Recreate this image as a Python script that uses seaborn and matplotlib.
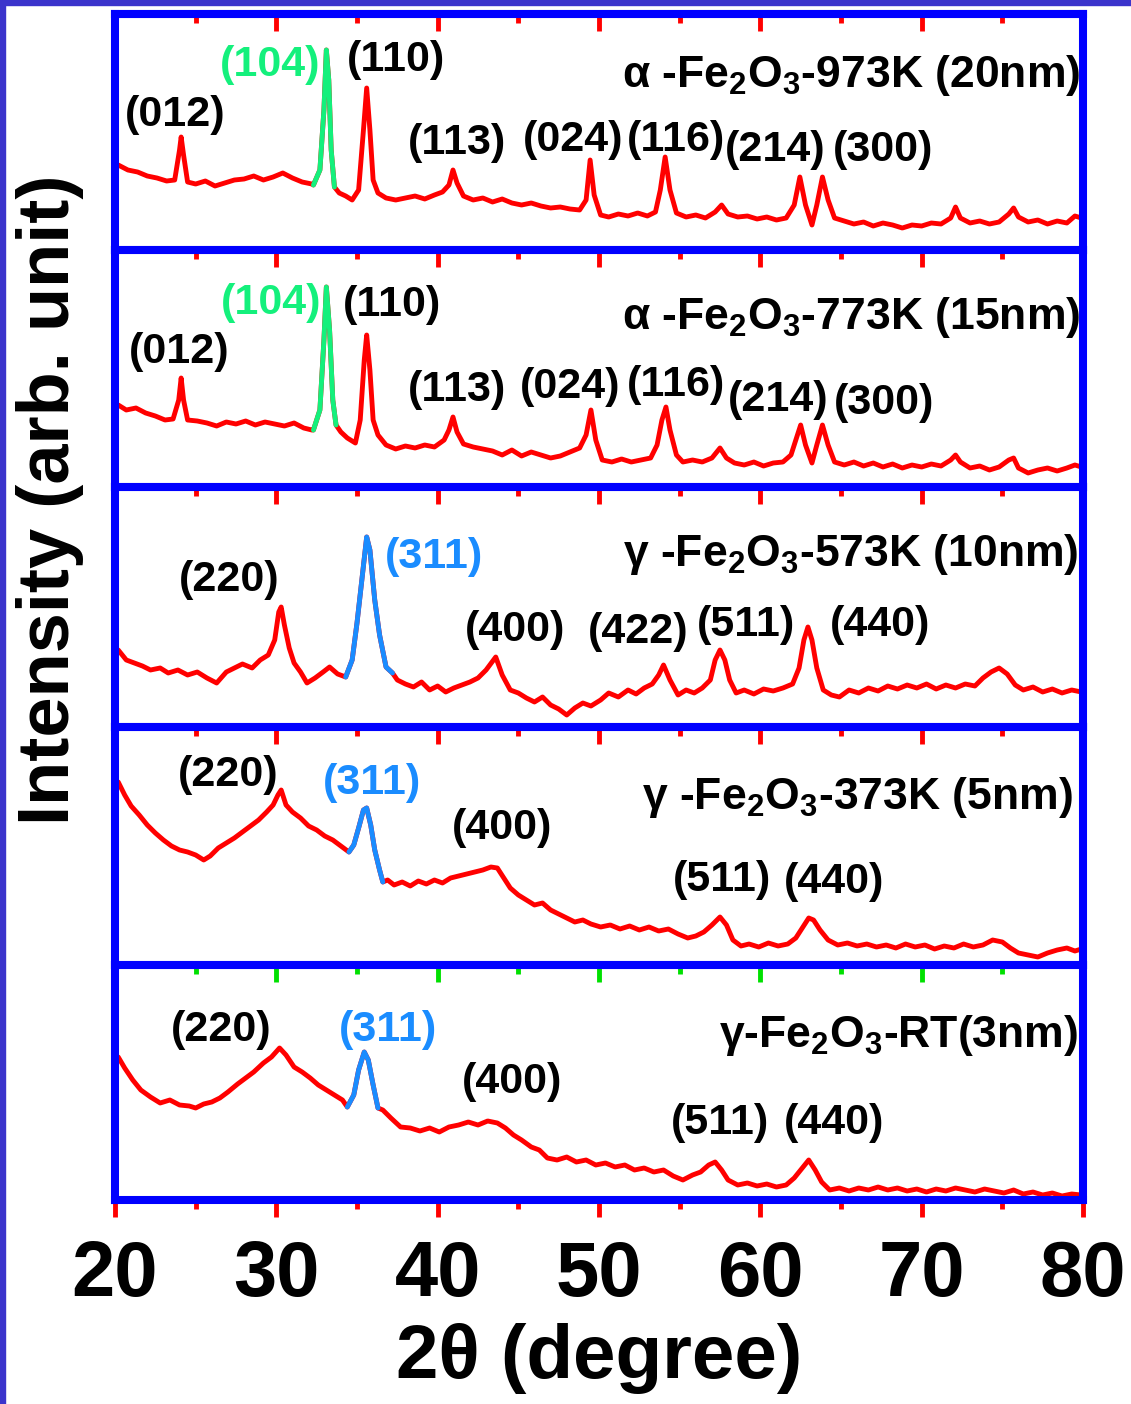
import matplotlib
matplotlib.use("Agg")
import matplotlib.pyplot as plt
import seaborn as sns
import pandas as pd
from matplotlib.ticker import MultipleLocator
from matplotlib.patches import Rectangle

# ---------------- data ----------------
SAMPLE_LABELS = [
    "α -Fe$_2$O$_3$-973K (20nm)",
    "α -Fe$_2$O$_3$-773K (15nm)",
    "γ -Fe$_2$O$_3$-573K (10nm)",
    "γ -Fe$_2$O$_3$-373K (5nm)",
    "γ-Fe$_2$O$_3$-RT(3nm)",
]

XRD_973K = [
    (20.2, 85), (20.8, 80), (21.4, 78), (22.0, 74), (22.6, 72), (23.2, 69), (23.7, 70),
    (24.0, 100), (24.1, 113), (24.25, 95), (24.5, 68), (25.0, 66), (25.6, 69), (26.2, 64),
    (26.8, 67), (27.4, 70), (28.0, 71), (28.6, 74), (29.2, 70), (29.8, 73), (30.4, 77),
    (31.0, 72), (31.6, 68), (32.2, 66), (32.3, 65), (32.7, 80), (32.95, 140), (33.1, 200),
    (33.25, 170), (33.4, 100), (33.6, 63), (33.9, 57), (34.3, 54), (34.7, 50), (35.1, 60),
    (35.4, 120), (35.6, 162), (35.8, 120), (36.0, 70), (36.3, 57), (36.8, 52), (37.4, 50),
    (38.0, 52), (38.6, 54), (39.2, 51), (39.8, 55), (40.3, 58), (40.7, 65), (40.95, 80),
    (41.2, 67), (41.6, 54), (42.2, 50), (42.8, 52), (43.4, 48), (44.0, 51), (44.6, 47),
    (45.2, 45), (45.8, 47), (46.4, 44), (47.0, 42), (47.6, 43), (48.2, 41), (48.8, 40),
    (49.2, 50), (49.45, 90), (49.7, 55), (50.1, 35), (50.6, 33), (51.2, 36), (51.8, 34),
    (52.4, 37), (53.0, 34), (53.5, 38), (53.8, 60), (54.1, 93), (54.4, 60), (54.8, 37),
    (55.4, 33), (56.0, 35), (56.6, 32), (57.2, 38), (57.6, 45), (58.0, 36), (58.6, 33),
    (59.2, 34), (59.8, 31), (60.4, 33), (61.0, 30), (61.6, 32), (62.1, 45), (62.45, 73),
    (62.8, 45), (63.2, 25), (63.5, 45), (63.85, 73), (64.2, 50), (64.6, 32), (65.2, 29),
    (65.8, 26), (66.4, 28), (67.0, 24), (67.6, 27), (68.2, 25), (68.8, 22), (69.4, 25),
    (70.0, 24), (70.6, 27), (71.2, 26), (71.8, 32), (72.1, 43), (72.4, 32), (73.0, 27),
    (73.6, 29), (74.2, 26), (74.8, 28), (75.4, 36), (75.7, 42), (76.0, 33), (76.6, 28),
    (77.2, 30), (77.8, 26), (78.4, 29), (79.0, 27), (79.5, 34), (79.9, 32),
]

XRD_773K = [
    (20.2, 82), (20.7, 77), (21.3, 79), (21.9, 74), (22.5, 71), (23.1, 67), (23.6, 68),
    (23.95, 87), (24.1, 109), (24.25, 87), (24.5, 67), (25.1, 66), (25.7, 64), (26.3, 61),
    (26.9, 65), (27.5, 63), (28.1, 66), (28.7, 62), (29.3, 65), (29.9, 63), (30.5, 61),
    (31.1, 64), (31.7, 59), (32.2, 57), (32.3, 57), (32.7, 77), (32.95, 147), (33.1, 200),
    (33.3, 157), (33.5, 87), (33.7, 62), (34.0, 55), (34.4, 49), (34.9, 44), (35.2, 67),
    (35.45, 127), (35.6, 152), (35.8, 117), (36.0, 67), (36.3, 52), (36.8, 42), (37.4, 38),
    (38.0, 41), (38.6, 39), (39.2, 42), (39.8, 40), (40.4, 47), (40.7, 57), (40.95, 70),
    (41.2, 55), (41.6, 43), (42.2, 40), (42.8, 38), (43.4, 36), (44.0, 32), (44.6, 37),
    (45.2, 31), (45.8, 35), (46.4, 32), (47.0, 29), (47.6, 31), (48.2, 35), (48.8, 39),
    (49.2, 52), (49.5, 77), (49.8, 47), (50.2, 27), (50.8, 25), (51.4, 28), (52.0, 25),
    (52.6, 27), (53.2, 29), (53.6, 42), (53.9, 67), (54.15, 80), (54.4, 57), (54.8, 32),
    (55.2, 25), (55.8, 27), (56.4, 25), (57.0, 29), (57.5, 39), (57.9, 29), (58.4, 24),
    (59.0, 22), (59.6, 25), (60.2, 21), (60.8, 24), (61.4, 25), (61.9, 32), (62.2, 47),
    (62.5, 62), (62.8, 42), (63.2, 24), (63.5, 42), (63.85, 62), (64.2, 42), (64.6, 25),
    (65.2, 22), (65.8, 25), (66.4, 21), (67.0, 24), (67.6, 20), (68.2, 23), (68.8, 19),
    (69.4, 22), (70.0, 20), (70.6, 23), (71.2, 21), (71.8, 27), (72.1, 32), (72.4, 25),
    (73.0, 19), (73.6, 21), (74.2, 17), (74.8, 20), (75.4, 27), (75.7, 29), (76.0, 19),
    (76.6, 14), (77.2, 17), (77.8, 19), (78.4, 16), (79.0, 19), (79.5, 22), (79.9, 20),
]

XRD_573K = [
    (20.2, 77), (20.7, 67), (21.2, 64), (21.7, 61), (22.2, 57), (22.8, 59), (23.3, 54),
    (23.9, 57), (24.5, 52), (25.1, 55), (25.7, 49), (26.3, 44), (26.9, 55), (27.4, 59),
    (27.9, 63), (28.5, 59), (29.0, 67), (29.5, 72), (29.9, 87), (30.15, 115), (30.3, 120),
    (30.5, 102), (30.8, 79), (31.1, 64), (31.5, 55), (31.9, 44), (32.4, 49), (32.9, 55),
    (33.3, 60), (33.8, 53), (34.3, 50), (34.7, 67), (35.0, 104), (35.3, 147), (35.6, 190),
    (35.8, 177), (36.1, 127), (36.4, 92), (36.8, 60), (37.2, 54), (37.5, 47), (38.0, 43),
    (38.5, 40), (39.0, 45), (39.5, 37), (40.0, 41), (40.5, 35), (41.0, 39), (41.5, 42),
    (42.0, 45), (42.5, 49), (43.0, 57), (43.6, 70), (44.0, 52), (44.5, 37), (45.0, 34),
    (45.5, 29), (46.0, 25), (46.5, 30), (47.0, 22), (47.5, 18), (48.0, 12), (48.5, 19),
    (49.0, 24), (49.5, 21), (50.1, 27), (50.6, 34), (51.2, 30), (51.8, 37), (52.3, 33),
    (52.8, 39), (53.3, 43), (53.7, 52), (54.0, 62), (54.4, 47), (54.9, 32), (55.4, 37),
    (55.9, 34), (56.4, 39), (56.9, 47), (57.2, 67), (57.5, 77), (57.8, 67), (58.1, 47),
    (58.5, 34), (59.0, 37), (59.6, 33), (60.2, 38), (60.8, 36), (61.4, 39), (62.0, 43),
    (62.4, 59), (62.7, 87), (62.95, 100), (63.2, 87), (63.5, 59), (63.9, 37), (64.4, 32),
    (64.9, 30), (65.5, 37), (66.1, 34), (66.7, 39), (67.3, 36), (67.9, 41), (68.5, 38),
    (69.1, 42), (69.7, 39), (70.3, 43), (70.9, 38), (71.5, 42), (72.1, 39), (72.7, 43),
    (73.3, 41), (73.8, 49), (74.3, 55), (74.8, 59), (75.3, 53), (75.8, 42), (76.3, 37),
    (76.9, 40), (77.5, 35), (78.1, 38), (78.7, 34), (79.3, 37), (79.9, 35),
]

XRD_373K = [
    (20.2, 183), (20.6, 170), (21.0, 159), (21.5, 150), (22.0, 140), (22.5, 132), (23.0, 125),
    (23.5, 119), (24.0, 115), (24.5, 113), (25.0, 110), (25.5, 105), (25.9, 109), (26.4, 117),
    (26.9, 122), (27.4, 127), (27.9, 133), (28.4, 139), (28.9, 145), (29.4, 153), (29.8, 160),
    (30.1, 170), (30.3, 175), (30.6, 160), (31.0, 153), (31.5, 147), (32.0, 139), (32.5, 135),
    (33.0, 129), (33.5, 125), (34.0, 119), (34.5, 113), (34.8, 120), (35.1, 137), (35.4, 155),
    (35.6, 157), (35.85, 140), (36.1, 115), (36.4, 95), (36.6, 83), (36.9, 85), (37.3, 80),
    (37.8, 83), (38.3, 79), (38.8, 84), (39.3, 81), (39.8, 85), (40.3, 82), (40.8, 87),
    (41.3, 89), (41.8, 91), (42.3, 93), (42.8, 95), (43.3, 98), (43.7, 97), (44.1, 87),
    (44.5, 77), (45.0, 70), (45.5, 65), (46.0, 60), (46.5, 62), (47.0, 55), (47.5, 51),
    (48.0, 47), (48.5, 43), (49.0, 45), (49.5, 41), (50.1, 38), (50.7, 40), (51.3, 36),
    (51.9, 39), (52.5, 35), (53.1, 38), (53.7, 34), (54.3, 36), (54.9, 31), (55.5, 27),
    (56.0, 29), (56.5, 33), (57.0, 40), (57.5, 48), (57.9, 40), (58.3, 25), (58.8, 19),
    (59.3, 21), (59.9, 18), (60.5, 22), (61.1, 19), (61.7, 21), (62.2, 27), (62.6, 37),
    (63.0, 47), (63.3, 45), (63.7, 35), (64.2, 25), (64.8, 20), (65.4, 22), (66.0, 19),
    (66.6, 21), (67.2, 18), (67.8, 20), (68.4, 17), (69.0, 21), (69.6, 18), (70.2, 20),
    (70.8, 16), (71.4, 19), (72.0, 17), (72.6, 21), (73.2, 18), (73.8, 20), (74.4, 25),
    (75.0, 23), (75.5, 17), (76.0, 12), (76.6, 10), (77.2, 8), (77.8, 12), (78.4, 15),
    (79.0, 17), (79.5, 14), (79.9, 16),
]

XRD_RT = [
    (20.2, 143), (20.6, 132), (21.1, 120), (21.6, 110), (22.2, 103), (22.8, 97), (23.4, 100),
    (24.0, 95), (24.6, 94), (25.0, 92), (25.5, 96), (26.0, 98), (26.5, 102), (27.0, 108),
    (27.6, 116), (28.1, 122), (28.6, 128), (29.2, 137), (29.7, 143), (30.2, 152), (30.6, 145),
    (31.1, 133), (31.6, 128), (32.1, 122), (32.6, 115), (33.1, 110), (33.6, 105), (34.1, 100),
    (34.4, 93), (34.8, 105), (35.1, 130), (35.45, 148), (35.7, 140), (36.0, 115), (36.3, 92),
    (36.6, 90), (37.1, 82), (37.7, 73), (38.3, 72), (38.9, 69), (39.5, 72), (40.1, 68),
    (40.7, 73), (41.3, 75), (41.9, 78), (42.5, 75), (43.1, 79), (43.7, 77), (44.2, 72),
    (44.7, 65), (45.2, 60), (45.8, 53), (46.3, 50), (46.8, 42), (47.4, 40), (48.0, 43),
    (48.6, 38), (49.2, 40), (49.8, 35), (50.4, 37), (51.0, 33), (51.6, 35), (52.2, 30),
    (52.8, 32), (53.4, 28), (54.0, 30), (54.6, 24), (55.2, 20), (55.8, 25), (56.3, 28),
    (56.8, 35), (57.2, 38), (57.6, 30), (58.0, 20), (58.6, 15), (59.2, 17), (59.8, 14),
    (60.4, 16), (61.0, 13), (61.6, 15), (62.1, 22), (62.6, 32), (63.0, 40), (63.4, 30),
    (63.8, 18), (64.3, 10), (64.9, 12), (65.5, 9), (66.1, 12), (66.7, 10), (67.3, 13),
    (67.9, 10), (68.5, 12), (69.1, 9), (69.7, 11), (70.3, 8), (70.9, 11), (71.5, 9),
    (72.1, 12), (72.7, 10), (73.3, 8), (73.9, 11), (74.5, 9), (75.1, 7), (75.7, 10),
    (76.3, 6), (76.9, 8), (77.5, 5), (78.1, 7), (78.7, 4), (79.3, 6), (79.9, 5),
]

# 2-theta range of the peak drawn in colour in each pattern
HIGHLIGHT_RANGES = [(32.3, 33.6), (32.3, 33.7), (34.3, 37.2), (34.5, 36.6), (34.4, 36.3)]

HKL_973K = ["(012)", "(104)", "(110)", "(113)", "(024)", "(116)", "(214)", "(300)"]
HKL_773K = ["(012)", "(104)", "(110)", "(113)", "(024)", "(116)", "(214)", "(300)"]
HKL_573K = ["(220)", "(311)", "(400)", "(422)", "(511)", "(440)"]
HKL_373K = ["(220)", "(311)", "(400)", "(511)", "(440)"]
HKL_RT = ["(220)", "(311)", "(400)", "(511)", "(440)"]

X_TICKS = [20, 30, 40, 50, 60, 70, 80]
X_LABEL = "2θ (degree)"
Y_LABEL = "Intensity (arb. unit)"

# ---------------- layout / style ----------------
W, H = 1131, 1404
AX_L, AX_R = 115, 1083
PANEL_EDGES = [14, 250, 487, 727, 965, 1200]

# label positions (2theta, height) for each hkl label, per panel
HKL_POS = [
    [(23.7, 135), (29.6, 185), (37.4, 190), (41.2, 107), (48.4, 110), (54.8, 110), (60.9, 100), (67.6, 100)],
    [(24.0, 135), (29.7, 184), (37.2, 182), (41.2, 97), (48.2, 100), (54.8, 102), (61.1, 87), (67.7, 84)],
    [(27.1, 147), (39.8, 170), (44.8, 97), (52.4, 95), (59.1, 102), (67.4, 102)],
    [(27.0, 190), (35.9, 182), (44.0, 137), (57.6, 85), (64.6, 83)],
    [(26.6, 170), (36.9, 170), (44.6, 118), (57.5, 77), (64.6, 77)],
]
SAMPLE_POS = [(79.8, 175), (79.8, 169), (79.7, 172), (79.4, 168), (79.7, 165)]

RED = "#ff0000"
GREEN = "#14f07c"
LBLUE = "#1a8cff"
SPINE_BLUE = "#0000ff"
BORDER = "#3b34cc"
HIGHLIGHT_COLORS = [GREEN, GREEN, LBLUE, LBLUE, LBLUE]
TICK_COLORS = [RED, RED, RED, "#00e000", RED]

sns.set_style("white")
plt.rcParams["font.family"] = ["Liberation Sans", "DejaVu Sans"]
plt.rcParams["mathtext.default"] = "regular"
plt.rcParams["text.color"] = "black"
plt.rcParams["axes.labelcolor"] = "black"

fig = plt.figure(figsize=(W / 100, H / 100), dpi=100)
fig.patch.set_facecolor("white")

patterns = [XRD_973K, XRD_773K, XRD_573K, XRD_373K, XRD_RT]
hkls = [HKL_973K, HKL_773K, HKL_573K, HKL_373K, HKL_RT]

for i, pat in enumerate(patterns):
    top, bot = PANEL_EDGES[i], PANEL_EDGES[i + 1]
    ax = fig.add_axes([AX_L / W, 1 - bot / H, (AX_R - AX_L) / W, (bot - top) / H])
    ax.set_facecolor("none")
    df = pd.DataFrame(pat, columns=["two_theta", "intensity"])
    sns.lineplot(data=df, x="two_theta", y="intensity", ax=ax, color=RED,
                 linewidth=3.5, sort=False, estimator=None)
    lo, hi = HIGHLIGHT_RANGES[i]
    seg = df[(df.two_theta >= lo) & (df.two_theta <= hi)]
    sns.lineplot(data=seg, x="two_theta", y="intensity", ax=ax, color=HIGHLIGHT_COLORS[i],
                 linewidth=3.5, sort=False, estimator=None)
    ax.set_xlim(20, 80)
    ax.set_ylim(0, bot - top)
    ax.set_yticks([])
    ax.set_xlabel("")
    ax.set_ylabel("")
    ax.xaxis.set_major_locator(MultipleLocator(10))
    ax.xaxis.set_minor_locator(MultipleLocator(5))
    ax.tick_params(axis="x", which="major", direction="out", length=12, width=3.5,
                   color=TICK_COLORS[i], bottom=True, top=False, labelbottom=False)
    ax.tick_params(axis="x", which="minor", direction="out", length=6.5, width=3.5,
                   color=TICK_COLORS[i], bottom=True, top=False)
    for sp in ax.spines.values():
        sp.set_visible(True)
        sp.set_color(SPINE_BLUE)
        sp.set_linewidth(5.8)

    for lab, (px, py) in zip(hkls[i], HKL_POS[i]):
        c = HIGHLIGHT_COLORS[i] if lab in ("(104)", "(311)") else "black"
        ax.text(px, py, lab, ha="center", va="center", fontsize=31,
                fontweight="bold", color=c)
    sx, sy = SAMPLE_POS[i]
    ax.text(sx, sy, SAMPLE_LABELS[i], ha="right", va="center", fontsize=32,
            fontweight="bold", color="black")

    if i == 0:
        sec = ax.secondary_xaxis("top")
        sec.xaxis.set_major_locator(MultipleLocator(10))
        sec.xaxis.set_minor_locator(MultipleLocator(5))
        sec.tick_params(axis="x", which="major", direction="in", length=12, width=3.5,
                        color=RED, labeltop=False)
        sec.tick_params(axis="x", which="minor", direction="in", length=6.5, width=3.5,
                        color=RED)
        sec.spines["top"].set_color(SPINE_BLUE)
        sec.spines["top"].set_linewidth(5.8)
    if i == len(patterns) - 1:
        ax.set_xticks(X_TICKS)
        ax.set_xticklabels([str(t) for t in X_TICKS])
        ax.tick_params(axis="x", which="major", labelbottom=True, labelsize=56, pad=16,
                       labelcolor="black")
        for t in ax.get_xticklabels():
            t.set_fontweight("bold")
        ax.set_xlabel(X_LABEL, fontsize=55, fontweight="bold", labelpad=8, color="black")

fig.text(50 / W, 1 - 500 / H, Y_LABEL, rotation=90, ha="center", va="center",
         fontsize=52, fontweight="bold", color="black")

# slide frame (left and top edges)
fig.patches.append(Rectangle((0, 0), 5 / W, 1, transform=fig.transFigure,
                             color=BORDER, zorder=10))
fig.patches.append(Rectangle((0, 1 - 5 / H), 1, 5 / H, transform=fig.transFigure,
                             color=BORDER, zorder=10))

fig.savefig("out.png", dpi=100, facecolor="white")
